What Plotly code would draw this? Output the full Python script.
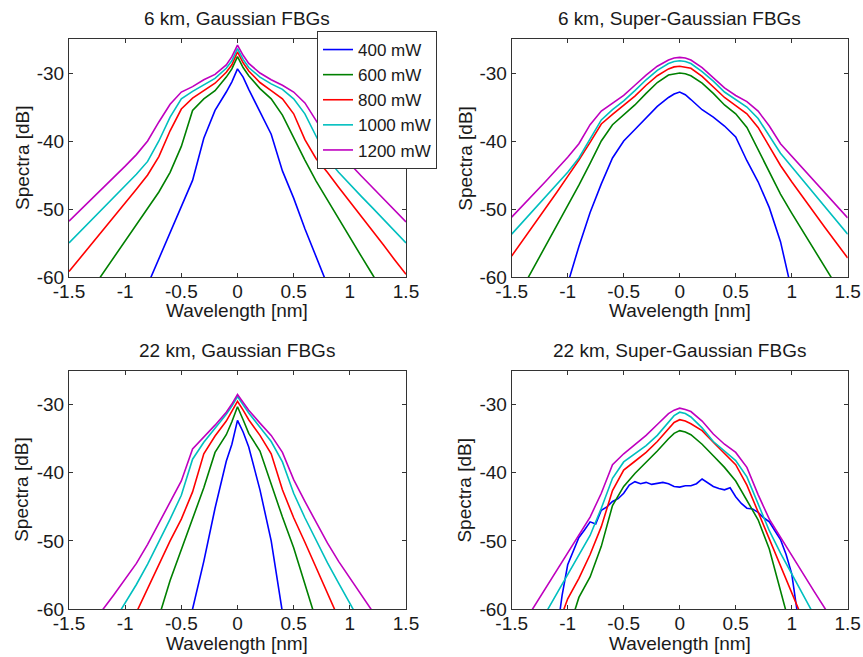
import plotly.graph_objects as go

# ---------------- data ----------------
wavelength = [-1.5, -1.4, -1.3, -1.2, -1.1, -1.0, -0.9, -0.8, -0.7, -0.6, -0.5, -0.4, -0.3, -0.2, -0.1, -0.05,
              0.0, 0.05, 0.1, 0.2, 0.3, 0.4, 0.5, 0.6, 0.7, 0.8, 0.9, 1.0, 1.1, 1.2, 1.3, 1.4, 1.5]

powers = ["400 mW", "600 mW", "800 mW", "1000 mW", "1200 mW"]
colors = ["#0000ff", "#008000", "#ff0000", "#00bfbf", "#bf00bf"]

# 6 km, Gaussian FBGs
g6_400 = [-88, -84, -80, -76.5, -73, -69, -65, -61.2, -57.3, -53.5, -49.7, -45.8, -39.6, -35.5, -32.8, -31.3,
          -29.4, -30.6, -32.4, -35.6, -39.0, -44.4, -48.4, -52.9, -57.3, -61.6, -65.8, -70, -74, -78, -82, -86, -90]
g6_600 = [-66.7, -64.3, -61.9, -59.5, -57.1, -54.7, -52.3, -49.9, -47.5, -44.6, -40.8, -35.5, -33.8, -32.6, -30.6, -29.4,
          -27.6, -29.2, -30.4, -32.3, -33.8, -36.2, -39.6, -42.8, -45.9, -48.7, -51.5, -54.2, -56.9, -59.6, -62.3, -65.0, -67.7]
g6_800 = [-59.2, -57.2, -55.2, -53.1, -51.1, -49.1, -47.1, -45.0, -42.3, -38.5, -35.3, -33.7, -32.6, -31.5, -29.9, -28.8,
          -26.9, -28.5, -29.7, -31.4, -32.6, -33.8, -36.0, -39.8, -42.6, -44.6, -46.8, -48.9, -51.0, -53.2, -55.3, -57.5, -59.6]
g6_1000 = [-55.0, -53.3, -51.6, -49.9, -48.3, -46.6, -44.9, -43.0, -40.0, -36.5, -33.8, -32.7, -31.8, -30.8, -29.3, -28.2,
           -26.4, -28.0, -29.2, -30.6, -31.6, -32.4, -33.8, -36.0, -39.3, -42.6, -44.6, -46.4, -48.1, -49.8, -51.5, -53.2, -55.0]
g6_1200 = [-51.8, -50.2, -48.6, -47.0, -45.4, -43.7, -42.0, -40.0, -37.2, -34.6, -32.8, -32.0, -31.0, -30.2, -28.8, -27.6,
           -25.9, -27.4, -28.6, -30.0, -31.0, -31.8, -32.8, -34.4, -37.0, -39.6, -41.6, -43.4, -45.1, -46.8, -48.5, -50.2, -51.9]

# 6 km, Super-Gaussian FBGs
sg6_400 = [-80, -76, -72, -68, -64.5, -61.0, -55.5, -50.5, -46.3, -42.5, -40.0, -38.3, -36.6, -34.9, -33.6, -33.1,
           -32.8, -33.2, -33.9, -35.4, -36.5, -37.8, -39.4, -42.9, -46.0, -49.8, -54.8, -62.0, -67, -72, -77, -82, -87]
sg6_600 = [-64.5, -61.5, -58.5, -55.5, -52.5, -49.6, -46.5, -43.3, -40.0, -37.6, -36.2, -34.7, -33.0, -31.4, -30.3, -30.1,
           -30.0, -30.1, -30.4, -31.5, -33.0, -34.7, -36.0, -38.0, -41.2, -44.6, -47.8, -50.6, -53.3, -56.0, -58.6, -61.2, -64.0]
sg6_800 = [-56.9, -54.6, -52.3, -50.0, -47.6, -45.2, -42.8, -40.2, -37.5, -36.1, -34.8, -33.4, -31.8, -30.4, -29.4, -29.1,
           -29.0, -29.1, -29.3, -30.5, -32.0, -33.6, -34.8, -36.0, -38.0, -40.8, -43.6, -46.0, -48.3, -50.6, -52.8, -55.0, -57.2]
sg6_1000 = [-53.7, -51.9, -50.1, -48.3, -46.5, -44.6, -42.5, -39.6, -36.9, -35.4, -34.1, -32.6, -31.0, -29.6, -28.6, -28.3,
            -28.2, -28.3, -28.6, -29.8, -31.2, -32.8, -33.9, -35.0, -36.7, -39.2, -41.8, -43.8, -45.8, -47.8, -49.8, -51.8, -53.7]
sg6_1200 = [-51.2, -49.5, -47.7, -46.0, -44.2, -42.4, -40.4, -37.6, -35.6, -34.5, -33.3, -31.8, -30.3, -29.0, -28.1, -27.8,
            -27.7, -27.8, -28.1, -29.2, -30.7, -32.2, -33.3, -34.2, -35.6, -37.8, -40.4, -42.2, -44.0, -45.8, -47.6, -49.4, -51.3]

# 22 km, Gaussian FBGs
g22_400 = [-140, -135, -130, -125, -120, -110, -100, -92, -84, -75, -67.5, -60.0, -53.0, -45.2, -38.3, -35.8,
           -32.3, -34.0, -36.2, -42.5, -50.0, -60.5, -68, -75, -84, -92, -100, -110, -120, -125, -130, -135, -140]
g22_600 = [-100, -96, -92, -88, -84, -80, -75, -68, -61.2, -55.8, -51.3, -46.8, -42.2, -37.0, -34.4, -32.5,
           -30.3, -32.2, -34.2, -36.8, -41.8, -46.5, -51.0, -56.0, -61.5, -67, -73, -79, -85, -91, -97, -100, -100]
g22_800 = [-85, -80, -75, -70.5, -66, -63, -60.5, -57.0, -53.5, -50.0, -46.8, -42.8, -37.2, -34.6, -32.4, -31.0,
           -29.5, -30.8, -32.2, -34.5, -37.2, -42.5, -46.6, -50.2, -53.8, -57.4, -61.0, -64.5, -68, -72, -76, -80, -85]
g22_1000 = [-75, -71, -67.5, -64.5, -61.8, -59.2, -56.4, -53.4, -50.2, -46.8, -43.3, -38.0, -35.5, -33.5, -31.4, -30.2,
            -28.8, -30.0, -31.2, -33.3, -35.4, -38.4, -43.0, -46.6, -50.0, -53.2, -56.2, -59.0, -61.8, -64.5, -67.5, -71, -75]
g22_1200 = [-70, -67, -63.5, -60.1, -57.9, -55.6, -53.3, -50.5, -47.4, -44.3, -41.2, -36.5, -34.8, -33.0, -31.1, -29.9,
            -28.5, -29.7, -30.8, -32.7, -34.5, -37.0, -41.0, -44.2, -47.3, -50.3, -53.0, -55.4, -57.8, -60.3, -63.2, -66.5, -69.5]

# 22 km, Super-Gaussian FBGs (400 mW trace is read on a finer grid)
wavelength_fine = [-1.10, -1.05, -1.00, -0.95, -0.90, -0.85, -0.80, -0.75, -0.70, -0.65, -0.60, -0.55, -0.50, -0.45,
                   -0.40, -0.35, -0.30, -0.25, -0.20, -0.15, -0.10, -0.05, 0.00, 0.05, 0.10, 0.15, 0.20, 0.25, 0.30,
                   0.35, 0.40, 0.45, 0.50, 0.55, 0.60, 0.65, 0.70, 0.75, 0.80, 0.85, 0.90, 0.95, 1.00, 1.05, 1.10]
sg22_400 = [-64, -58.0, -53.5, -51.5, -49.5, -48.4, -47.2, -47.5, -45.5, -45.0, -44.2, -43.8, -43.0, -41.8,
            -41.3, -41.6, -41.4, -41.7, -41.5, -41.4, -41.6, -42.0, -42.1, -41.9, -41.9, -41.6, -40.9, -41.5, -42.0,
            -42.3, -42.5, -42.2, -43.5, -44.5, -45.2, -45.3, -45.8, -46.6, -47.2, -48.5, -49.8, -52.0, -54.8, -60.5, -66]
sg22_600 = [-90, -85, -80, -75, -70, -63.5, -58.3, -55.3, -50.8, -44.8, -42.0, -40.1, -38.5, -36.8, -35.0, -34.2,
            -33.8, -34.0, -34.4, -35.8, -37.5, -39.2, -41.2, -44.0, -46.9, -51.2, -57.0, -63.5, -70, -76, -82, -88, -94]
sg22_800 = [-80, -76, -71.5, -67, -63, -58.5, -55.5, -52.0, -47.9, -42.6, -39.6, -38.3, -37.0, -35.4, -33.5, -32.6,
            -32.2, -32.4, -32.8, -33.8, -35.5, -37.2, -38.8, -41.8, -45.7, -49.6, -53.4, -57.2, -61.3, -65.5, -70, -74, -78]
sg22_1000 = [-69.5, -66.5, -63.6, -60.7, -57.8, -54.9, -52.0, -49.2, -45.2, -40.8, -38.4, -37.2, -36.0, -34.5, -32.6, -31.6,
             -31.1, -31.3, -31.8, -33.4, -35.4, -36.8, -38.2, -40.6, -44.6, -48.5, -51.8, -54.8, -57.8, -60.8, -64.0, -67, -70]
sg22_1200 = [-64.9, -62.3, -59.6, -57.0, -54.3, -51.7, -49.1, -46.5, -43.0, -38.8, -37.2, -35.8, -34.5, -32.9, -31.3, -30.8,
             -30.5, -30.7, -31.0, -32.4, -34.3, -35.8, -37.0, -39.2, -43.2, -46.8, -49.5, -52.2, -54.8, -57.4, -60.0, -62.6, -65.2]

titles = ["6 km, Gaussian FBGs", "6 km, Super-Gaussian FBGs", "22 km, Gaussian FBGs", "22 km, Super-Gaussian FBGs"]
x_ticks = [-1.5, -1.0, -0.5, 0.0, 0.5, 1.0, 1.5]
x_tick_labels = ["-1.5", "-1", "-0.5", "0", "0.5", "1", "1.5"]
y_ticks = [-60, -50, -40, -30]
y_tick_labels = ["-60", "-50", "-40", "-30"]
x_label = "Wavelength [nm]"
y_label = "Spectra [dB]"

panels = [
    [(wavelength, g6_400), (wavelength, g6_600), (wavelength, g6_800), (wavelength, g6_1000), (wavelength, g6_1200)],
    [(wavelength, sg6_400), (wavelength, sg6_600), (wavelength, sg6_800), (wavelength, sg6_1000), (wavelength, sg6_1200)],
    [(wavelength, g22_400), (wavelength, g22_600), (wavelength, g22_800), (wavelength, g22_1000), (wavelength, g22_1200)],
    [(wavelength_fine, sg22_400), (wavelength, sg22_600), (wavelength, sg22_800), (wavelength, sg22_1000), (wavelength, sg22_1200)],
]

# ---------------- layout geometry (pixels) ----------------
W, H = 863, 657
FONT = "Liberation Sans, Arial, Helvetica, sans-serif"
FS = 19
TXT = "#1a1a1a"
AX = "#333333"
# plot boxes: (left, right, top, bottom)
boxes = [(69, 406, 39, 277), (511.7, 847.7, 39, 277), (69, 406, 370.7, 609), (511.7, 847.7, 370.7, 609)]

fig = go.Figure()
annotations = []
layout = {}
for i, (box, curves) in enumerate(zip(boxes, panels)):
    n = "" if i == 0 else str(i + 1)
    xa, ya = "x" + n, "y" + n
    for j, (xs, ys) in enumerate(curves):
        fig.add_trace(go.Scatter(
            x=xs, y=ys, mode="lines", name=powers[j],
            line=dict(color=colors[j], width=1.6),
            xaxis=xa, yaxis=ya, showlegend=(i == 0),
        ))
    l, r, t, b = box
    common = dict(showgrid=False, zeroline=False, showline=True, linecolor=AX, linewidth=1,
                  mirror="ticks", ticks="inside", ticklen=4, tickcolor=AX, automargin=False,
                  tickfont=dict(family=FONT, size=FS, color=TXT))
    layout["xaxis" + n] = dict(domain=[l / W, r / W], range=[-1.5, 1.5], anchor=ya,
                               tickmode="array", tickvals=x_ticks, ticktext=x_tick_labels,
                               ticklabelstandoff=-3, **common)
    layout["yaxis" + n] = dict(domain=[1 - b / H, 1 - t / H], range=[-60, -25], anchor=xa,
                               tickmode="array", tickvals=y_ticks, ticktext=y_tick_labels, **common)
    cx = (l + r) / 2
    annotations.append(dict(text=titles[i], x=cx / W, y=1 - (t - 20) / H, xref="paper", yref="paper",
                            showarrow=False, xanchor="center", yanchor="middle",
                            font=dict(family=FONT, size=FS, color=TXT)))
    annotations.append(dict(text=x_label, x=cx / W, y=1 - (b + 34) / H, xref="paper", yref="paper",
                            showarrow=False, xanchor="center", yanchor="middle",
                            font=dict(family=FONT, size=FS, color=TXT)))
    annotations.append(dict(text=y_label, x=(l - 47) / W, y=1 - ((t + b) / 2) / H, xref="paper", yref="paper",
                            showarrow=False, xanchor="center", yanchor="middle", textangle=-90,
                            font=dict(family=FONT, size=FS, color=TXT)))

fig.update_layout(
    template="none",
    width=W, height=H,
    margin=dict(l=0, r=0, t=0, b=0, pad=0),
    paper_bgcolor="white", plot_bgcolor="white",
    font=dict(family=FONT, size=FS, color=TXT),
    annotations=annotations,
    legend=dict(x=317 / W, y=1 - 31 / H, xanchor="left", yanchor="top",
                bgcolor="white", bordercolor=AX, borderwidth=1, entrywidth=96,
                font=dict(family=FONT, size=17, color=TXT), tracegroupgap=0),
    **layout,
)

# remove the browser's default page margin so the figure sits at the window's top-left corner
fig.write_html("out.html", config={"displayModeBar": False},
               post_script="document.body.style.margin='0px';")
